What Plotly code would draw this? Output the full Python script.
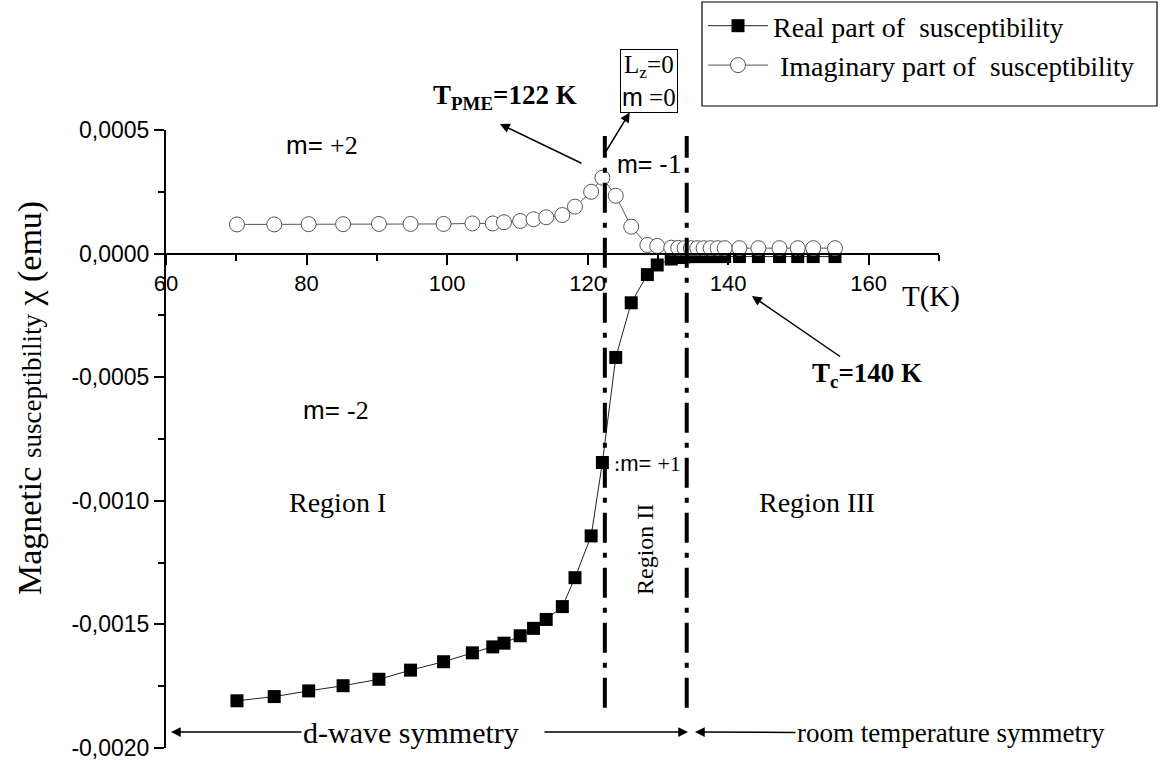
import plotly.graph_objects as go

# ---------------- data ----------------
temperature_K = [70.1, 75.4, 80.3, 85.2, 90.3, 94.8, 99.5, 103.6, 106.5, 108.1,
                 110.4, 112.3, 114.1, 116.4, 118.2, 120.5, 122.1, 124.0, 126.2, 128.5,
                 129.9, 131.9, 132.9, 133.8, 134.7, 135.6, 136.5, 137.5, 138.5, 139.5,
                 141.6, 144.3, 147.3, 149.9, 152.1, 155.2]

real_chi = [-1.809e-3, -1.792e-3, -1.769e-3, -1.748e-3, -1.722e-3, -1.685e-3, -1.651e-3,
            -1.615e-3, -1.591e-3, -1.576e-3, -1.546e-3, -1.516e-3, -1.480e-3, -1.428e-3,
            -1.311e-3, -1.142e-3, -0.845e-3, -0.420e-3, -0.199e-3, -0.085e-3, -0.046e-3,
            -0.022e-3, -0.016e-3, -0.013e-3, -0.012e-3, -0.012e-3, -0.012e-3, -0.012e-3,
            -0.012e-3, -0.012e-3, -0.012e-3, -0.012e-3, -0.012e-3, -0.012e-3, -0.012e-3,
            -0.012e-3]

imag_chi = [1.18e-4, 1.18e-4, 1.19e-4, 1.19e-4, 1.20e-4, 1.20e-4, 1.20e-4, 1.22e-4,
            1.22e-4, 1.27e-4, 1.32e-4, 1.39e-4, 1.47e-4, 1.56e-4, 1.90e-4, 2.50e-4,
            3.07e-4, 2.34e-4, 1.09e-4, 0.35e-4, 0.31e-4, 0.24e-4, 0.23e-4, 0.22e-4,
            0.22e-4, 0.22e-4, 0.22e-4, 0.22e-4, 0.22e-4, 0.22e-4, 0.22e-4, 0.22e-4,
            0.22e-4, 0.22e-4, 0.22e-4, 0.22e-4]

x_tick_vals = [60, 80, 100, 120, 140, 160]
x_tick_text = ["60", "80", "100", "120", "140", "160"]
y_tick_vals = [-0.0020, -0.0015, -0.0010, -0.0005, 0.0, 0.0005]
y_tick_text = ["-0,0020", "-0,0015", "-0,0010", "-0,0005", "0,0000", "0,0005"]

region_boundaries_K = [122.45, 134.1]
boundary_chi_span = [-0.001837, 0.000476]

series_names = ["Real part of&nbsp; <span style=\"font-size:27px\">susceptibility</span>",
                " Imaginary part of&nbsp; <span style=\"font-size:27px\">susceptibility</span>"]

# ---------------- layout helpers ----------------
W, H = 1163, 761
ML, MR, MT, MB = 166, 224, 130, 13
PW, PH = W - ML - MR, H - MT - MB


def px(x):
    return (x - ML) / PW


def py(y):
    return (H - MB - y) / PH


SERIF = "Liberation Serif"
SANS = "Liberation Sans"
sans = lambda s: '<span style="font-family:Liberation Sans">' + s + '</span>'

fig = go.Figure()
fig.add_trace(go.Scatter(
    x=temperature_K, y=real_chi, name=series_names[0], mode="lines+markers",
    line=dict(color="#222222", width=1),
    marker=dict(symbol="square", size=13, color="black", line=dict(width=0)),
))
fig.add_trace(go.Scatter(
    x=temperature_K, y=imag_chi, name=series_names[1], mode="lines+markers",
    line=dict(color="#555555", width=1),
    marker=dict(symbol="circle", size=15, color="white", line=dict(color="#555555", width=1)),
))

# region boundary dash-dot lines
for xb in region_boundaries_K:
    fig.add_shape(type="line", xref="x", yref="y", x0=xb, x1=xb,
                  y0=boundary_chi_span[0], y1=boundary_chi_span[1],
                  line=dict(color="black", width=4, dash="30px,10px,5px,10px"))

# legend frame
fig.add_shape(type="rect", xref="paper", yref="paper",
              x0=px(702), x1=px(1157), y0=py(106), y1=py(2),
              line=dict(color="black", width=1.2), fillcolor="rgba(0,0,0,0)")

anns = []


def text(x, y, s, size, family=SERIF, angle=0, **kw):
    anns.append(dict(xref="paper", yref="paper", x=px(x), y=py(y), text=s,
                     showarrow=False, textangle=angle,
                     font=dict(family=family, size=size, color="black"),
                     xanchor="center", yanchor="middle", **kw))


def arrow_text(hx, hy, tx, ty, s, size, side="end", **kw):
    # arrow tip at (hx, hy); the text is centred at (tx, ty)
    anns.append(dict(xref="paper", yref="paper", x=px(hx), y=py(hy), text=s,
                     showarrow=True, ax=tx - hx, ay=ty - hy, axref="pixel", ayref="pixel",
                     xanchor="center", yanchor="middle",
                     arrowhead=2, startarrowhead=2, arrowsize=1.3, startarrowsize=1.3,
                     arrowwidth=1.5, arrowcolor="black", arrowside=side,
                     standoff=0, startstandoff=0,
                     font=dict(family=SERIF, size=size, color="black"), **kw))


def arrow(hx, hy, tx, ty):
    anns.append(dict(xref="paper", yref="paper", x=px(hx), y=py(hy), text="",
                     showarrow=True, ax=tx - hx, ay=ty - hy, axref="pixel", ayref="pixel",
                     arrowhead=2, arrowsize=1.3, arrowwidth=1.5, arrowcolor="black",
                     standoff=0, startstandoff=0))


text(30, 398, "Magnetic <span style=\"font-size:27px\">susceptibility</span> χ (emu)", 34, angle=-90)
text(931, 296, "T(K)", 29)
text(505, 97, "<b>T<sub>PME</sub>=122 K</b>", 27)
arrow_text(605, 153, 649, 81, "L<sub>z</sub>=0<br>" + sans("m") + " =0", 25, side="start",
           bordercolor="black", borderwidth=1, borderpad=1)
text(649, 163, sans("m= -") + "<span style=\"font-size:28px\">1</span>", 25)
text(322, 145, sans("m= ") + "+2", 26)
text(336, 410, sans("m= ") + "-2", 26)
text(647, 463, ":" + sans("m= ") + "+1", 22)
text(337, 502, "Region I", 28)
text(817, 502, "Region III", 28)
text(645, 550, "Region II", 24, angle=-90)
arrow_text(752, 296, 867, 375, "<b>T<sub>c</sub>=140 K</b>", 27)
arrow_text(171, 732, 411, 732, "d-wave symmetry", 30)
arrow_text(695, 732, 951, 733, "room temperature symmetry", 27)

arrow(500, 124, 583, 164)
arrow(688, 732, 543, 732)

fig.update_layout(
    width=W, height=H,
    margin=dict(l=ML, r=MR, t=MT, b=MB, pad=0, autoexpand=False),
    paper_bgcolor="white", plot_bgcolor="white",
    showlegend=True,
    legend=dict(x=px(703), y=py(1), xanchor="left", yanchor="top",
                bgcolor="rgba(0,0,0,0)", borderwidth=0, itemwidth=60,
                font=dict(family=SERIF, size=28, color="black")),
    annotations=anns,
    xaxis=dict(range=[60, 170], anchor="free", position=0.8,
               showline=True, linecolor="black", linewidth=2,
               ticks="outside", ticklen=10, tickwidth=2, tickcolor="black",
               tickvals=x_tick_vals, ticktext=x_tick_text,
               minor=dict(dtick=10, ticks="outside", ticklen=6, tickwidth=1.5, tickcolor="black"),
               tickfont=dict(family=SANS, size=22, color="black"),
               ticklabeloverflow="allow",
               showgrid=False, zeroline=False),
    yaxis=dict(range=[-0.0020, 0.0005], showline=True, linecolor="black", linewidth=2,
               ticks="outside", ticklen=10, tickwidth=2, tickcolor="black",
               tickvals=y_tick_vals, ticktext=y_tick_text,
               minor=dict(dtick=0.00025, ticks="outside", ticklen=6, tickwidth=1.5, tickcolor="black"),
               tickfont=dict(family=SANS, size=23, color="black"),
               ticklabeloverflow="allow",
               showgrid=False, zeroline=False),
)

fig.write_html("out.html", config={"displayModeBar": False},
               post_script="document.body.style.margin='0';document.body.style.overflow='hidden';")
